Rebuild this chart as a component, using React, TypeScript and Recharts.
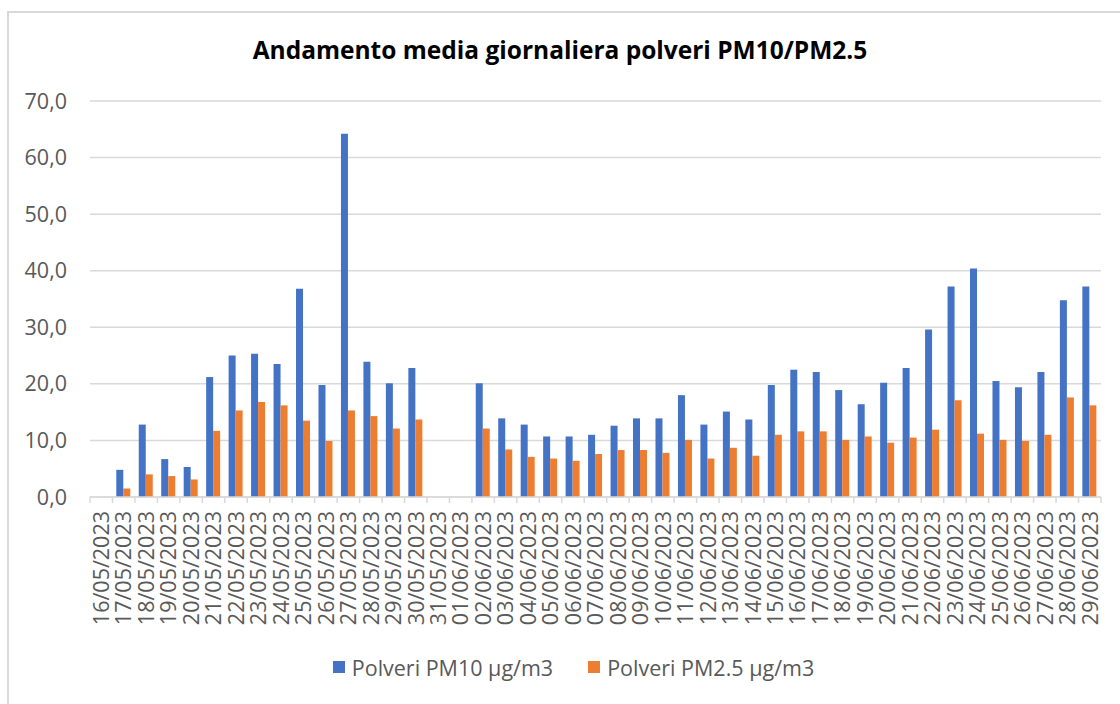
import { BarChart, Bar, XAxis, YAxis, CartesianGrid, Legend } from 'recharts';

// daily averages, µg/m3 (null = no measurement)
const dates = [
  '16/05/2023', '17/05/2023', '18/05/2023', '19/05/2023', '20/05/2023', '21/05/2023',
  '22/05/2023', '23/05/2023', '24/05/2023', '25/05/2023', '26/05/2023', '27/05/2023',
  '28/05/2023', '29/05/2023', '30/05/2023', '31/05/2023', '01/06/2023', '02/06/2023',
  '03/06/2023', '04/06/2023', '05/06/2023', '06/06/2023', '07/06/2023', '08/06/2023',
  '09/06/2023', '10/06/2023', '11/06/2023', '12/06/2023', '13/06/2023', '14/06/2023',
  '15/06/2023', '16/06/2023', '17/06/2023', '18/06/2023', '19/06/2023', '20/06/2023',
  '21/06/2023', '22/06/2023', '23/06/2023', '24/06/2023', '25/06/2023', '26/06/2023',
  '27/06/2023', '28/06/2023', '29/06/2023',
];

const pm10 = [
  null, 4.8, 12.8, 6.7, 5.3, 21.2,
  25.0, 25.3, 23.5, 36.8, 19.8, 64.2,
  23.9, 20.1, 22.8, null, null, 20.1,
  13.9, 12.8, 10.7, 10.7, 11.0, 12.6,
  13.9, 13.9, 18.0, 12.8, 15.1, 13.7,
  19.8, 22.5, 22.1, 18.9, 16.4, 20.2,
  22.8, 29.6, 37.2, 40.4, 20.5, 19.4,
  22.1, 34.8, 37.2,
];

const pm25 = [
  null, 1.5, 4.0, 3.7, 3.1, 11.7,
  15.3, 16.8, 16.2, 13.5, 9.9, 15.3,
  14.3, 12.1, 13.7, null, null, 12.1,
  8.4, 7.1, 6.8, 6.4, 7.6, 8.3,
  8.3, 7.8, 10.1, 6.8, 8.7, 7.3,
  11.0, 11.6, 11.6, 10.1, 10.7, 9.6,
  10.5, 11.9, 17.1, 11.2, 10.1, 9.9,
  11.0, 17.6, 16.2,
];

const yTicks = [0, 10, 20, 30, 40, 50, 60, 70];

const series = [
  { key: 'pm10', name: 'Polveri PM10 µg/m3', color: '#4472C4' },
  { key: 'pm25', name: 'Polveri PM2.5 µg/m3', color: '#ED7D31' },
];

const W = 1120;
const H = 704;
const PLOT_LEFT = 90;
const PLOT_RIGHT = 1101;
const GRID = '#D9D9D9';
const LABEL = '#595959';
const FONT = '"Open Sans", sans-serif';
const FS = 21.5;

const data = dates.map((d, i) => ({ date: d, pm10: pm10[i], pm25: pm25[i] }));
const band = (PLOT_RIGHT - PLOT_LEFT) / dates.length;

function DateTick(props: any) {
  const { x, y, payload, index } = props;
  const left = x - band / 2;
  return (
    <g>
      <line x1={left} y1={y} x2={left} y2={y + 6} stroke={GRID} strokeWidth={1.5} />
      {index === dates.length - 1 && (
        <line x1={x + band / 2} y1={y} x2={x + band / 2} y2={y + 6} stroke={GRID} strokeWidth={1.5} />
      )}
      <text
        transform={`translate(${x},${y + 14}) rotate(-90)`}
        textAnchor="end"
        dy="0.36em"
        fontSize={FS}
        fontFamily={FONT}
        fill={LABEL}
      >
        {payload.value}
      </text>
    </g>
  );
}

function LegendBox() {
  return (
    <div style={{
      height: 40, paddingLeft: 46, display: 'flex', alignItems: 'center', justifyContent: 'center',
      gap: 35, fontFamily: FONT, fontSize: FS, color: LABEL,
    }}>
      {series.map((s) => (
        <div key={s.key} style={{ display: 'flex', alignItems: 'center', gap: 7 }}>
          <span style={{ width: 12, height: 12, background: s.color, display: 'inline-block' }} />
          <span>{s.name}</span>
        </div>
      ))}
    </div>
  );
}

export default function App() {
  return (
    <div style={{ position: 'absolute', left: 0, top: 0, width: W, height: H, overflow: 'hidden', background: '#fff' }}>
      <div style={{ position: 'absolute', left: 7, top: 11, width: W, height: H + 20, border: `2px solid ${GRID}` }} />
      <div style={{
        position: 'absolute', left: 0, top: 33, width: W, textAlign: 'center',
        fontFamily: FONT, fontWeight: 700, fontSize: 24.5, color: '#000',
      }}>
        Andamento media giornaliera polveri PM10/PM2.5
      </div>
      <div style={{ position: 'absolute', left: 0, top: 0 }}>
        <BarChart
          width={W}
          height={H}
          data={data}
          margin={{ top: 101, right: W - PLOT_RIGHT, left: 0, bottom: 17 }}
          barCategoryGap="17%"
          barGap={0}
        >
          <CartesianGrid vertical={false} stroke={GRID} strokeWidth={1.5} />
          <XAxis
            dataKey="date"
            interval={0}
            height={150}
            tickLine={false}
            tickSize={0}
            tickMargin={0}
            axisLine={{ stroke: GRID, strokeWidth: 1.5 }}
            tick={<DateTick />}
          />
          <YAxis
            width={PLOT_LEFT}
            domain={[0, 70]}
            ticks={yTicks}
            axisLine={false}
            tickLine={false}
            tickSize={0}
            tickMargin={23}
            tick={{ fontSize: FS, fill: LABEL, fontFamily: FONT }}
            tickFormatter={(v: number) => v.toFixed(1).replace('.', ',')}
          />
          <Legend verticalAlign="bottom" content={<LegendBox />} />
          {series.map((s) => (
            <Bar key={s.key} dataKey={s.key} name={s.name} fill={s.color} isAnimationActive={false} />
          ))}
        </BarChart>
      </div>
    </div>
  );
}
